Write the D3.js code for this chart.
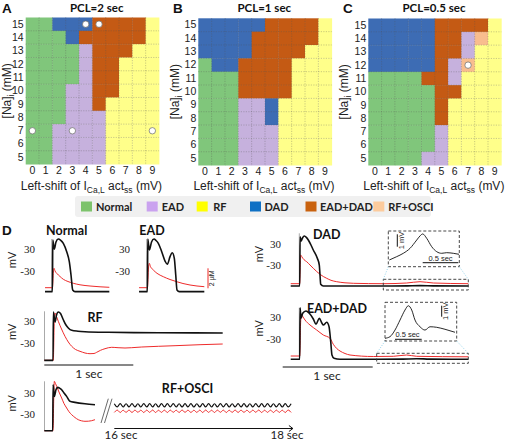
<!DOCTYPE html>
<html><head><meta charset="utf-8">
<script src="https://cdn.jsdelivr.net/npm/d3@7"></script>
<style>body{margin:0;background:#fff}svg{display:block}</style>
</head><body>
<svg id="chart" width="505" height="442"></svg>
<script>
// ---------------- DATA ----------------
const shiftValues = [0,1,2,3,4,5,6,7,8,9];          // left-shift of I_CaL act_ss (mV)
const naValues = [15,14,13,12,11,10,9,8,7,6,5];     // [Na]i (mM), top to bottom
const categoryNames = ["Normal","EAD","RF","DAD","EAD+DAD","RF+OSCI"];
const categoryCodes = ["G","E","Y","B","O","S"];
const pclTitles = ["PCL=2 sec","PCL=1 sec","PCL=0.5 sec"];
const panelLetters = ["A","B","C"];
// rows follow naValues, columns follow shiftValues
const mapA = ["GGBBBOOOOY","GGGBOOOOOY","GGGGEOOOYY","GGGGEOOYYY","GGGGEOOYYY","GGGEEOOYYY","GGGEEOYYYY","GGGEEEYYYY","GGEEEEYYYY","GGEEEEYYYY","GGEEEEYYYY"];
const mapB = ["BBBBBOOOOY","BBBBOOOOOY","BBBBOOOOYY","GBBOOOOYYY","GGGOOOOYYY","GGGOOOOYYY","GGGEEBYYYY","GGGEEBYYYY","GGGEEEYYYY","GGGEEEYYYY","GGGEEEYYYY"];
const mapC = ["BBBBBOOOOY","BBBBBOOESY","BBBBBOOEYY","BBBBBOESYY","GGGGOOEYYY","GGGGGOOYYY","GGGGGOYYYY","GGGGGOYYYY","GGGGGEYYYY","GGGGGEYYYY","GGGGEEYYYY"];
const markersA = [[0,7],[3,7],[9,7],[4,15],[5,15]];
const markersB = [];
const markersC = [[7,12]];

// traces: [time ms, Vm mV] and [time ms, Ca uM]
const normalV = [[-86,-84],[-3,-84],[1,53],[18,29],[37,47.8],[63,55.7],[87,53],[119,44.3],[157,22],[186,-4.5],[205,-39.8],[224,-79.6],[250,-84],[634,-84]];
const normalCa = [[-86,0.1],[-3,0.1],[7,1.67],[15,2.04],[26,1.77],[45,1.54],[82,1.22],[119,0.94],[171,0.72],[231,0.54],[306,0.39],[418,0.27],[530,0.19],[634,0.14]];
const eadV = [[-97,-84],[-3,-84],[1,55.7],[18,26.5],[43,47.8],[71,55.7],[93,51.8],[119,44.3],[157,22],[194,-2.7],[220,-11.4],[250,8.8],[275,19.4],[298,4.5],[314,-39.8],[328,-79.6],[354,-84],[634,-84]];
const eadCa = [[-97,0.1],[-3,0.1],[9,2.07],[18,2.54],[31,2.22],[63,1.87],[104,1.54],[175,1.2],[250,0.92],[325,0.7],[395,0.52],[474,0.37],[552,0.27],[634,0.2]];
const rfV = [[-101,-75.3],[-3,-75.3],[1,52.5],[19,26],[36,44.5],[56,52.5],[81,48.5],[112,32],[142,18],[168,10.2],[206,4],[277,1.7],[355,0.4],[616,-1.2],[1176,-2.3],[1897,-3.1]];
const rfCa = [[-101,0.1],[0,0.1],[11,4.13],[19,4.83],[36,4.48],[56,4.0],[92,3.23],[131,2.5],[168,1.93],[206,1.5],[249,1.18],[299,1.0],[355,0.83],[411,0.76],[456,0.78],[486,0.9],[529,1.1],[579,1.26],[654,1.4],[725,1.36],[803,1.33],[878,1.36],[990,1.43],[1176,1.5],[1363,1.56],[1643,1.66],[1897,1.73]];
const dadV = [[-104,-90.3],[-3,-90.3],[1,49.2],[11,37],[28,45.6],[48,51.2],[71,47.5],[93,40],[123,25.8],[149,11.6],[194,-11.9],[216,-30.9],[224,-59],[232,-85.5],[261,-90.3],[933,-90.3],[1200,-89.8],[1344,-89.1],[1493,-89.8],[1885,-90.3]];
const dadCa = [[-104,0.1],[-3,0.1],[3,2.27],[8,2.97],[22,2.77],[45,2.5],[75,2.3],[112,1.97],[149,1.64],[187,1.32],[224,1.04],[261,0.82],[299,0.64],[347,0.44],[411,0.3],[504,0.19],[597,0.14],[933,0.1],[1195,0.17],[1344,0.3],[1493,0.17],[1885,0.1]];
const dadInset = [[0,0],[104,0.27],[197,0.54],[291,0.94],[385,1.61],[431,1.94],[469,2.1],[525,1.75],[596,1.07],[666,0.67],[736,0.54],[806,0.59],[899,0.54],[979,0.46]];
const eaddadV = [[-104,-84],[-3,-84],[1,56],[11,27.3],[30,40.9],[67,47.1],[104,40.9],[149,25.4],[179,11],[216,27.3],[246,13.7],[261,9.1],[299,16.4],[325,4.7],[344,-36.2],[358,-72.4],[381,-81.4],[448,-84],[859,-84],[1150,-83.5],[1307,-82.5],[1450,-83.5],[1885,-84]];
const eaddadCa = [[-104,0.1],[-3,0.1],[6,3.2],[15,4.27],[34,4.0],[56,3.7],[112,3.2],[187,2.7],[261,2.2],[336,1.87],[373,1.27],[411,0.85],[448,0.6],[504,0.35],[560,0.2],[821,0.05],[1045,0.07],[1195,0.2],[1307,0.07],[1885,0.02]];
const eaddadInset = [[0,0],[74,0.15],[147,0.75],[221,1.66],[294,2.57],[343,2.96],[393,2.57],[441,1.66],[515,1.05],[588,0.75],[662,1.05],[760,1.0],[882,0.82],[1029,0.55]];
const rfosciV = [[-97,-79.3],[-3,-79.3],[1,54],[15,20.3],[34,40],[53,46.4],[73,44.3],[97,39.4],[123,29.9],[153,20.3],[174,11],[190,5.8],[246,2.9],[358,-1.2],[470,-4.1]];
const rfosciCa = [[-97,0.1],[0,0.1],[8,3.17],[15,5.04],[28,4.82],[41,4.54],[67,3.97],[97,3.37],[123,2.82],[153,2.37],[179,2.0],[209,1.7],[246,1.42],[283,1.2],[319,1.09],[358,1.04],[397,1.05],[433,1.1],[470,1.2]];
const oscStartMs = 16000, oscStepMs = 33;
const oscV = [-1.0,-10.4,-0.8,-10.6,-1.2,-10.5,-0.9,-10.3,-1.1,-10.6,-0.8,-10.5,-1.0,-10.4,-1.2,-10.6,-0.9,-10.5,-1.0,-10.3,-0.8,-10.6,-1.1,-10.5,-1.0,-10.4,-0.9,-10.6,-1.2,-10.5,-1.0,-10.4,-0.8,-10.6,-1.1,-10.5,-0.9,-10.3,-1.0,-10.6,-1.2,-10.5,-0.8,-10.4,-1.0,-10.6,-1.1,-10.5,-0.9,-10.4,-1.0,-10.6,-0.8,-10.5,-1.2,-10.4,-1.0,-10.6,-0.9,-10.5,-1.0];
const oscCa = [1.93,2.16,1.92,2.15,1.93,2.17,1.92,2.16,1.94,2.15,1.92,2.16,1.93,2.17,1.92,2.15,1.93,2.16,1.92,2.16,1.94,2.15,1.92,2.17,1.93,2.16,1.92,2.15,1.93,2.16,1.92,2.17,1.93,2.15,1.92,2.16,1.94,2.16,1.92,2.15,1.93,2.17,1.92,2.16,1.93,2.15,1.92,2.16,1.94,2.17,1.92,2.15,1.93,2.16,1.92,2.16,1.93,2.15,1.92,2.17,1.93];

// ---------------- STYLE / LAYOUT ----------------
const cellColor = {G:"#80c67b",E:"#c6b1dd",Y:"#ffff8a",B:"#3d6cb4",O:"#c45a14",S:"#f8bd8e"};
const legendColor = {G:"#7dc36c",E:"#caa2ef",Y:"#ffff00",B:"#0f70c4",O:"#c9620f",S:"#fccb9d"};
const SANS = "'Liberation Sans', Arial, sans-serif";
const BOLD = "Lato, 'Open Sans', sans-serif";
const SERIF = "'Liberation Serif', 'Times New Roman', serif";
const RED = "#ee2b2b";

const svg = d3.select("#chart");
svg.append("rect").attr("width",505).attr("height",442).attr("fill","#fff");

function subText(sel, parts, sub) {
  let shifted = false;
  parts.forEach(p => {
    const t = sel.append("tspan").text(p.t);
    if (p.s && !shifted) { t.attr("dy", 3).attr("font-size", sub); shifted = true; }
    else if (p.s) { t.attr("font-size", sub); }
    else if (!p.s && shifted) { t.attr("dy", -3); shifted = false; }
  });
}

// ---------------- HEATMAPS ----------------
const heatLayout = [
  {map:mapA, markers:markersA, left:25.7, top:17.5, w:133.3, h:146.6, titleX:96.7, letterX:2, yTitleX:11},
  {map:mapB, markers:markersB, left:198.3, top:18.3, w:133.4, h:146.8, titleX:264.3, letterX:173, yTitleX:179},
  {map:mapC, markers:markersC, left:368.3, top:18.5, w:133, h:146.6, titleX:434, letterX:343, yTitleX:348}
];
heatLayout.forEach((L, pi) => {
  const g = svg.append("g");
  const x = d3.scaleBand().domain(shiftValues).range([L.left, L.left + L.w]);
  const y = d3.scaleBand().domain(naValues).range([L.top, L.top + L.h]);
  const cells = [];
  L.map.forEach((row, r) => row.split("").forEach((code, c) => cells.push({s: shiftValues[c], na: naValues[r], code})));
  g.selectAll("rect.cell").data(cells).join("rect").attr("class","cell")
    .attr("x", d => x(d.s)).attr("y", d => y(d.na))
    .attr("width", x.bandwidth() + 0.4).attr("height", y.bandwidth() + 0.4)
    .attr("fill", d => cellColor[d.code]);
  const gl = g.append("g").attr("stroke","#555").attr("stroke-opacity",0.45).attr("stroke-width",0.7).attr("stroke-dasharray","1.2,1.3");
  shiftValues.slice(1).forEach(s => gl.append("line").attr("x1", x(s)).attr("x2", x(s)).attr("y1", L.top).attr("y2", L.top + L.h));
  naValues.slice(1).forEach(n => gl.append("line").attr("y1", y(n)).attr("y2", y(n)).attr("x1", L.left).attr("x2", L.left + L.w));
  g.selectAll("circle").data(L.markers).join("circle")
    .attr("cx", d => x(d[0]) + x.bandwidth()/2).attr("cy", d => y(d[1]) + y.bandwidth()/2)
    .attr("r", 3.2).attr("fill","#fff").attr("stroke","#666").attr("stroke-width",0.7);
  const ax = g.append("g").attr("transform", `translate(0,${L.top + L.h})`)
    .call(d3.axisBottom(x).tickSize(0).tickPadding(2.5));
  ax.select(".domain").remove();
  ax.selectAll("text").attr("font-family", SANS).attr("font-size", 10.5).attr("fill","#222");
  const ay = g.append("g").attr("transform", `translate(${L.left},0)`)
    .call(d3.axisLeft(y).tickSize(0).tickPadding(2));
  ay.select(".domain").remove();
  ay.selectAll("text").attr("font-family", SANS).attr("font-size", 10.5).attr("fill","#222");
  g.append("text").attr("x", L.titleX).attr("y", 11.5).attr("text-anchor","middle")
    .attr("font-family", BOLD).attr("font-weight", 700).attr("font-size", 11.5).attr("fill","#111").text(pclTitles[pi]);
  g.append("text").attr("x", L.letterX).attr("y", 12.5).attr("font-family", SANS).attr("font-weight",700)
    .attr("font-size", 13.5).attr("fill","#111").text(panelLetters[pi]);
  const xt = g.append("text").attr("x", L.left + L.w/2 - 1).attr("y", 189.5).attr("text-anchor","middle")
    .attr("font-family", SANS).attr("font-size", 12).attr("fill","#222");
  subText(xt, [{t:"Left-shift of I"},{t:"Ca,L",s:1},{t:" act"},{t:"ss",s:1},{t:" (mV)"}], 8.5);
  const yt = g.append("text").attr("transform", `translate(${L.yTitleX},${L.top + L.h/2}) rotate(-90)`)
    .attr("text-anchor","middle").attr("font-family", SANS).attr("font-size", 12).attr("fill","#222");
  subText(yt, [{t:"[Na]"},{t:"i",s:1},{t:" (mM)"}], 8.5);
});

// ---------------- LEGEND ----------------
const legendLayout = {x:75, y:196, w:356, h:21, swatchX:[81,146.7,196.7,250,305.5,373.3], labelX:[96,161.7,213.3,264.5,320,388.3]};
const lg = svg.append("g");
lg.append("rect").attr("x", legendLayout.x).attr("y", legendLayout.y).attr("width", legendLayout.w).attr("height", legendLayout.h)
  .attr("rx", 3).attr("fill", "#f0f0f0");
categoryNames.forEach((name, i) => {
  lg.append("rect").attr("x", legendLayout.swatchX[i]).attr("y", 201.5).attr("width", 11).attr("height", 10)
    .attr("fill", legendColor[categoryCodes[i]]);
  lg.append("text").attr("x", legendLayout.labelX[i]).attr("y", 210.5).attr("font-family", BOLD).attr("font-weight",700)
    .attr("font-size", 11).attr("fill","#222").text(name);
});

// ---------------- PANEL D ----------------
const D = svg.append("g");
D.append("text").attr("x", 2).attr("y", 235).attr("font-family", SANS).attr("font-weight",700).attr("font-size",13.5).attr("fill","#111").text("D");
const PX_PER_MS = 0.0893;
const curve = d3.curveMonotoneX;

function tracePanel(cfg) {
  const g = D.append("g");
  const xs = d3.scaleLinear().domain([0, 1000]).range([cfg.x0, cfg.x0 + 1000 * PX_PER_MS]);
  const ys = d3.scaleLinear().domain([-30, 30]).range([cfg.ym30, cfg.y30]);
  const cs = d3.scaleLinear().domain([0, 2]).range([cfg.ca0, cfg.ca0 - 20]);
  g.append("line").attr("x1", cfg.axisX).attr("x2", cfg.axisX).attr("y1", cfg.axisTop).attr("y2", cfg.axisBottom)
    .attr("stroke", "#aaa").attr("stroke-width", 1);
  const ay = g.append("g").attr("transform", `translate(${cfg.labelRight},0)`)
    .call(d3.axisLeft(ys).tickValues([30, -30]).tickSize(0).tickPadding(0).tickFormat(d => String(d)));
  ay.select(".domain").remove();
  ay.selectAll("text").attr("font-family", SERIF).attr("font-size", 11).attr("fill", "#222");
  if (cfg.mv) {
    g.append("text").attr("transform", `translate(${cfg.mvX},${(cfg.y30 + cfg.ym30)/2}) rotate(-90)`)
      .attr("text-anchor","middle").attr("font-family", SANS).attr("font-size", 11).attr("fill","#222").text("mV");
  }
  g.append("text").attr("x", cfg.titleX).attr("y", cfg.titleY).attr("text-anchor","middle")
    .attr("font-family", BOLD).attr("font-weight",700).attr("font-size",12.5).attr("fill","#111").text(cfg.title);
  g.append("path").datum(cfg.ca).attr("fill","none").attr("stroke", RED).attr("stroke-width", 1)
    .attr("d", d3.line().x(d => xs(d[0])).y(d => cs(d[1])).curve(curve));
  g.append("path").datum(cfg.v).attr("fill","none").attr("stroke", "#111").attr("stroke-width", 1.6)
    .attr("stroke-linejoin","round")
    .attr("d", d3.line().x(d => xs(d[0])).y(d => ys(d[1])).curve(curve));
  return {g, xs, ys, cs};
}

tracePanel({title:"Normal", titleX:66.7, titleY:234.5, v:normalV, ca:normalCa, x0:52.7, y30:248.7, ym30:271.3, ca0:288.7,
  axisX:51.7, axisTop:239, axisBottom:291.7, labelRight:35, mv:true, mvX:16});
tracePanel({title:"EAD", titleX:152, titleY:234.5, v:eadV, ca:eadCa, x0:147.7, y30:248.7, ym30:271.3, ca0:288.7,
  axisX:146.7, axisTop:239, axisBottom:291.7, labelRight:130, mv:false});
tracePanel({title:"RF", titleX:95, titleY:321.5, v:rfV, ca:rfCa, x0:53.3, y30:320.5, ym30:343.2, ca0:361.3,
  axisX:44.5, axisTop:311.3, axisBottom:360.3, labelRight:35, mv:true, mvX:16});
tracePanel({title:"DAD", titleX:326.7, titleY:238.5, v:dadV, ca:dadCa, x0:300, y30:243.5, ym30:264.7, ca0:284.7,
  axisX:299.3, axisTop:233.3, axisBottom:286, labelRight:281, mv:true, mvX:263});
tracePanel({title:"EAD+DAD", titleX:337, titleY:312.5, v:eaddadV, ca:eaddadCa, x0:300, y30:317.3, ym30:339.4, ca0:357,
  axisX:299.3, axisTop:307.7, axisBottom:359.3, labelRight:281, mv:true, mvX:263});
const osc = tracePanel({title:"RF+OSCI", titleX:187.5, titleY:393, v:rfosciV, ca:rfosciCa, x0:53, y30:393, ym30:413.7, ca0:431.7,
  axisX:44.5, axisTop:381.3, axisBottom:430.7, labelRight:35, mv:true, mvX:16});

// red Ca scale bar (2 uM)
D.append("line").attr("x1",208).attr("x2",208).attr("y1",268.3).attr("y2",288.3).attr("stroke",RED).attr("stroke-width",1);
D.append("text").attr("transform","translate(214,278.3) rotate(-90)").attr("text-anchor","middle")
  .attr("font-family",SANS).attr("font-size",7).attr("fill","#222").text("2 µM");

// 1 sec bars
[[44.3,133.3,365,88.8,377.5],[282.7,372.7,367,327,380]].forEach(b => {
  D.append("line").attr("x1",b[0]).attr("x2",b[1]).attr("y1",b[2]).attr("y2",b[2]).attr("stroke","#111").attr("stroke-width",1);
  D.append("text").attr("x",b[3]).attr("y",b[4]).attr("text-anchor","middle").attr("font-family",BOLD).attr("font-size",12).attr("fill","#222").text("1 sec");
});

// insets
function inset(cfg) {
  const g = D.append("g");
  const dash = "3,2";
  g.append("rect").attr("x",cfg.box[0]).attr("y",cfg.box[1]).attr("width",cfg.box[2]).attr("height",cfg.box[3])
    .attr("fill","none").attr("stroke","#333").attr("stroke-width",0.9).attr("stroke-dasharray",dash);
  g.append("rect").attr("x",cfg.low[0]).attr("y",cfg.low[1]).attr("width",cfg.low[2]).attr("height",cfg.low[3])
    .attr("fill","none").attr("stroke","#333").attr("stroke-width",0.9).attr("stroke-dasharray",dash);
  const bx0 = cfg.box[0], bx1 = cfg.box[0]+cfg.box[2], by1 = cfg.box[1]+cfg.box[3];
  const lx0 = cfg.low[0], lx1 = cfg.low[0]+cfg.low[2], ly0 = cfg.low[1];
  [[bx0,by1,lx0,ly0],[bx1,by1,lx1,ly0]].forEach(l => g.append("line").attr("x1",l[0]).attr("y1",l[1]).attr("x2",l[2]).attr("y2",l[3])
    .attr("stroke","#8fd0ea").attr("stroke-width",0.9).attr("stroke-dasharray","1,1.5"));
  const xs = d3.scaleLinear().domain([0,1000]).range([cfg.tx0, cfg.tx0 + cfg.pxPerSec]);
  const ys = d3.scaleLinear().domain([0,1]).range([cfg.vy0, cfg.vy0 - cfg.pxPerMv]);
  g.append("path").datum(cfg.data).attr("fill","none").attr("stroke","#111").attr("stroke-width",0.9)
    .attr("d", d3.line().x(d => xs(d[0])).y(d => ys(d[1])).curve(d3.curveMonotoneX));
  g.append("line").attr("x1",cfg.mvBar[0]).attr("x2",cfg.mvBar[0]).attr("y1",cfg.mvBar[1]).attr("y2",cfg.mvBar[2]).attr("stroke","#111").attr("stroke-width",1);
  g.append("text").attr("transform",`translate(${cfg.mvText[0]},${cfg.mvText[1]}) rotate(-90)`).attr("text-anchor","middle")
    .attr("font-family",SANS).attr("font-size",7.5).attr("fill","#222").text("1 mV");
  g.append("line").attr("x1",cfg.sBar[0]).attr("x2",cfg.sBar[1]).attr("y1",cfg.sBar[2]).attr("y2",cfg.sBar[2]).attr("stroke","#111").attr("stroke-width",1);
  g.append("text").attr("x",cfg.sText[0]).attr("y",cfg.sText[1]).attr("text-anchor","middle")
    .attr("font-family",SANS).attr("font-size",7.5).attr("fill","#222").text("0.5 sec");
}
inset({box:[388.3,231,71,35.7], low:[383.3,279.3,85,10.7], data:dadInset, tx0:389.3, pxPerSec:71.2, vy0:260, pxPerMv:12.4,
  mvBar:[397.3,234.3,246.7], mvText:[403.5,240.5], sBar:[422.7,458.3,262.7], sText:[440.5,260.5]});
inset({box:[385,302.3,71.7,38.7], low:[376.7,353.3,91.6,10], data:eaddadInset, tx0:385, pxPerSec:68, vy0:338.3, pxPerMv:11,
  mvBar:[441.7,305.7,316.7], mvText:[448,311.2], sBar:[395,421.7,339.3], sText:[407.5,337]});

// RF+OSCI late oscillation
const oxs = d3.scaleLinear().domain([16000, 18000]).range([114.3, 114.3 + 2000 * PX_PER_MS]);
const oscPts = oscV.map((v, i) => [oscStartMs + i * oscStepMs, v]);
const oscCaPts = oscCa.map((c, i) => [oscStartMs + i * oscStepMs, c]);
D.append("path").datum(oscCaPts).attr("fill","none").attr("stroke",RED).attr("stroke-width",1)
  .attr("d", d3.line().x(d => oxs(d[0])).y(d => osc.cs(d[1])).curve(d3.curveCatmullRom));
D.append("path").datum(oscPts).attr("fill","none").attr("stroke","#111").attr("stroke-width",1.2)
  .attr("d", d3.line().x(d => oxs(d[0])).y(d => osc.ys(d[1])).curve(d3.curveCatmullRom));
[[101,423,108.3,398.7],[104.5,423,112,398.7]].forEach(l => D.append("line").attr("x1",l[0]).attr("y1",l[1]).attr("x2",l[2]).attr("y2",l[3])
  .attr("stroke","#444").attr("stroke-width",0.8));
const ay0 = 428.5;
D.append("line").attr("x1",oxs(16000)).attr("x2",oxs(18000)).attr("y1",ay0).attr("y2",ay0).attr("stroke","#111").attr("stroke-width",1);
D.append("path").attr("d",`M${oxs(18000)-4},${ay0-3}L${oxs(18000)},${ay0}L${oxs(18000)-4},${ay0+3}`).attr("fill","none").attr("stroke","#111").attr("stroke-width",1);
D.append("text").attr("x",121).attr("y",439.3).attr("text-anchor","middle").attr("font-family",BOLD).attr("font-size",11.5).attr("fill","#222").text("16 sec");
D.append("text").attr("x",287).attr("y",439.3).attr("text-anchor","middle").attr("font-family",BOLD).attr("font-size",11.5).attr("fill","#222").text("18 sec");
</script>
</body></html>
